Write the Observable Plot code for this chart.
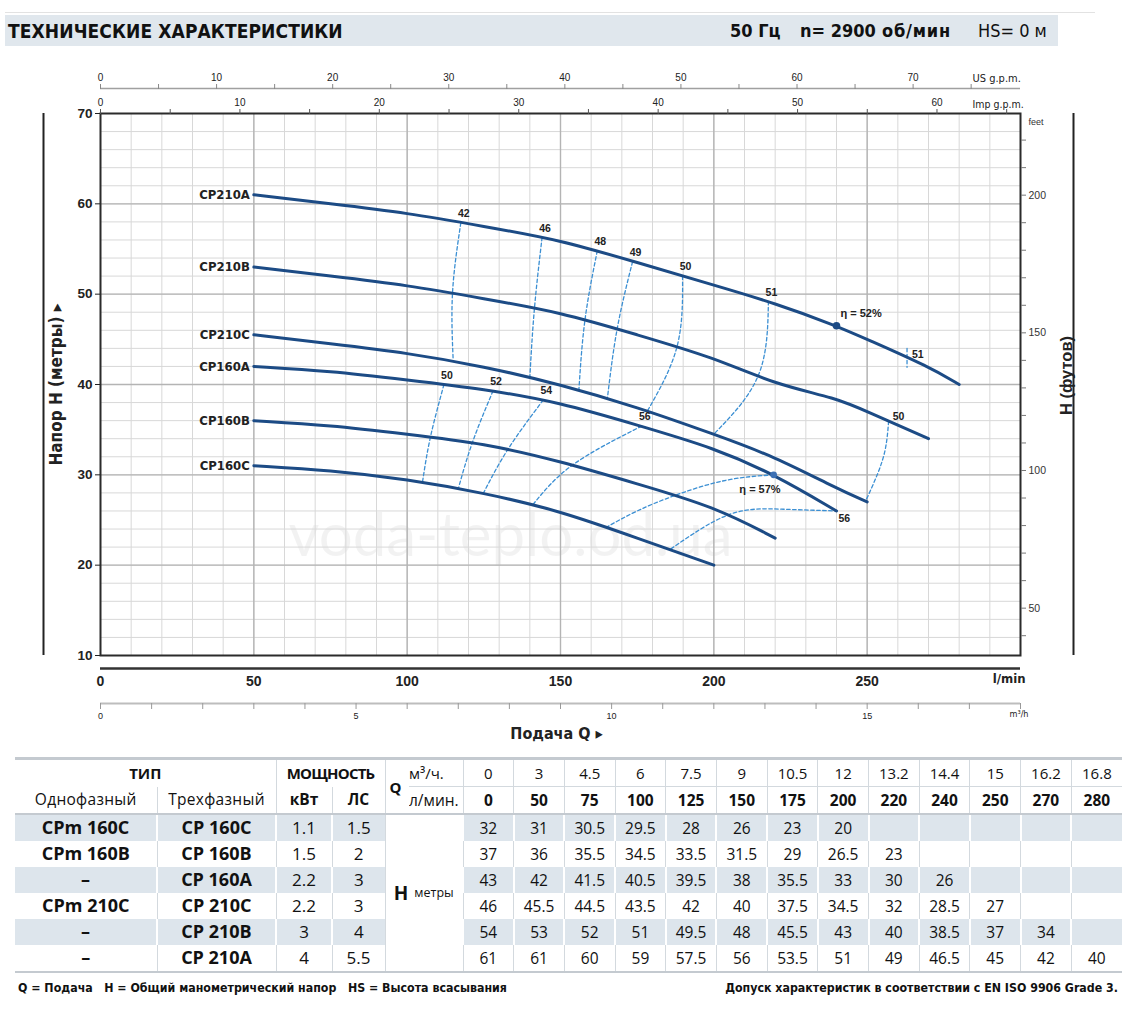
<!DOCTYPE html>
<html>
<head>
<meta charset="utf-8">
<script src="https://cdn.jsdelivr.net/npm/d3@7"></script>
<script src="https://cdn.jsdelivr.net/npm/@observablehq/plot@0.6"></script>
<style>
  body { margin: 0; background: #fff; }
  #page { position: relative; width: 1138px; height: 1019px; overflow: hidden; font-family: "Liberation Sans", Arial, sans-serif; color: #111; background: #fff; }
  #topline { position: absolute; left: 5px; top: 12px; width: 1090px; height: 1px; background: #e2e2e2; }
  #hdr { position: absolute; left: 5px; top: 15px; width: 1053px; height: 31px; background: #e0e7ed; }
  .narrow { font-family: "Liberation Sans Narrow", "DejaVu Sans Condensed", "Liberation Sans", sans-serif; font-stretch: condensed; }
  #title { position: absolute; left: 3px; top: 5px; font-size: 19px; font-weight: bold; letter-spacing: 0.1px; }
  .spec { position: absolute; top: 5px; font-size: 18px; white-space: nowrap; }
  #chart { position: absolute; left: 0; top: 50px; }
  #tbl { position: absolute; left: 15px; top: 757px; border-collapse: collapse; table-layout: fixed; width: 1107px; font-family: "Open Sans", "Noto Sans", sans-serif; color: #111; border-top: 3px solid #c4cad0; border-bottom: 2px solid #c4cad0; line-height: 1.2; }
  #tbl td { padding: 0; text-align: center; vertical-align: middle; white-space: nowrap; overflow: hidden; }
  #tbl tr.h1 td { height: 26px; font-size: 15px; border-left: 1px solid #d3d9de; }
  #tbl tr.h2 td { height: 26px; font-size: 15.5px; border-left: 1px solid #d3d9de; border-bottom: 2px solid #c4cad0; }
  #tbl tr.h1 td.first, #tbl tr.h2 td.first { border-left: none; }
  #tbl td.hd { font-weight: bold; font-size: 18px; }
  #tbl td.moshch { letter-spacing: -0.8px; }
  #tbl td.sub { font-size: 18px; letter-spacing: 0.3px; }
  #tbl td.kv { font-size: 18px; }
  #tbl td.q { font-weight: bold; font-size: 18px; text-align: left; padding-left: 4px; border-bottom: 2px solid #c4cad0; }
  #tbl td.unit { font-size: 13.5px; text-align: left; border-left: none !important; }
  #tbl td.u1, #tbl td.v1 { border-bottom: 1px solid #d3d9de; }
  #tbl td.b { font-weight: bold; }
  #tbl tr.d td { height: 26px; font-size: 15.5px; }
  #tbl tr.sh td { background: #dde5ec; border-left: 2px solid #fff; }
  #tbl tr.wh td { background: #fff; border-left: 1px solid #d3d9de; }
  #tbl tr.d td.first { border-left: none; }
  #tbl tr.d td.nm { font-weight: bold; font-size: 18px; }
  #tbl tr.d td.pw { font-size: 17px; }
  #tbl td.hcell { background: #fff !important; border-left: 1px solid #d3d9de !important; border-right: 1px solid #d3d9de; }
  #tbl td.hcell .H { font-weight: bold; font-size: 19px; }
  #tbl td.hcell .met { font-size: 12.5px; margin-left: 6px; position: relative; top: -3px; }
  .foot { position: absolute; top: 981px; font-size: 12.3px; font-weight: bold; white-space: nowrap; color: #111; }
</style>
</head>
<body>
<div id="page">
  <div id="topline"></div>
  <div id="hdr">
    <span id="title" class="narrow">ТЕХНИЧЕСКИЕ ХАРАКТЕРИСТИКИ</span>
    <span class="spec narrow" style="left:725px;font-weight:bold;">50 Гц</span>
    <span class="spec narrow" style="left:795px;font-weight:bold;">n= 2900</span>
    <span class="spec narrow" style="left:877px;font-weight:bold;letter-spacing:0.8px;">об/мин</span>
    <span class="spec narrow" style="left:973px;">HS= 0 м</span>
  </div>
  <div id="chart"></div>
  <table id="tbl"></table>
  <div class="foot narrow" style="left:18px;">Q = Подача&nbsp;&nbsp; H = Общий манометрический напор&nbsp;&nbsp; HS = Высота всасывания</div>
  <div class="foot narrow" style="right:20px;">Допуск характеристик в соответствии с EN ISO 9906 Grade 3.</div>
</div>
<script>
const flowLmin = [0, 50, 75, 100, 125, 150, 175, 200, 220, 240, 250, 270, 280];
const flowM3h  = ["0", "3", "4.5", "6", "7.5", "9", "10.5", "12", "13.2", "14.4", "15", "16.2", "16.8"];
const models   = ["CP160C", "CP160B", "CP160A", "CP210C", "CP210B", "CP210A"];
const headCP160C = [32, 31, 30.5, 29.5, 28, 26, 23, 20];
const headCP160B = [37, 36, 35.5, 34.5, 33.5, 31.5, 29, 26.5, 23];
const headCP160A = [43, 42, 41.5, 40.5, 39.5, 38, 35.5, 33, 30, 26];
const headCP210C = [46, 45.5, 44.5, 43.5, 42, 40, 37.5, 34.5, 32, 28.5, 27];
const headCP210B = [54, 53, 52, 51, 49.5, 48, 45.5, 43, 40, 38.5, 37, 34];
const headCP210A = [61, 61, 60, 59, 57.5, 56, 53.5, 51, 49, 46.5, 45, 42, 40];
const singlePhase = ["CPm 160C", "CPm 160B", "–", "CPm 210C", "–", "–"];
const threePhase  = ["CP 160C", "CP 160B", "CP 160A", "CP 210C", "CP 210B", "CP 210A"];
const powerKw = ["1.1", "1.5", "2.2", "2.2", "3", "4"];
const powerHp = ["1.5", "2", "3", "3", "4", "5.5"];
const chartStartQ = 50;

// iso-efficiency lines [Q l/min, H m]
const iso42  = [[117.5, 57.9], [114.8, 50.2], [115, 42.7]];
const iso46  = [[144, 56.3], [141.5, 48.4], [140, 40.8]];
const iso48  = [[162, 54.8], [158, 47.2], [156, 39.4]];
const iso49  = [[173.5, 53.6], [168.5, 46.2], [165.3, 38.5]];
const iso50a = [[189.8, 52.0], [188, 44.2], [178.4, 37.1]];
const iso51a = [[217.8, 49.2], [214.5, 41.0], [200, 34.5]];
const iso50b = [[257, 35.95], [256, 33.0], [253.5, 30.2], [249.5, 27.1]];
const iso51b = [[263, 44.0], [263, 41.9]];
const iso50c = [[112, 40.0], [107.6, 34.2], [105, 29.2]];
const iso52c = [[128, 39.3], [121.3, 33.6], [116.7, 28.5]];
const iso54c = [[144.4, 38.3], [133, 32.9], [124.9, 28.0]];
const iso56c = [[176.5, 35.4], [154, 31.1], [141, 26.7]];
const iso57  = [[219.5, 30.0], [204, 29.4], [188, 27.8], [175, 26.0], [165, 24.2]];
const iso56d = [[186, 21.8], [205, 25.6], [222, 26.2], [240, 26.0]];
const effPeakQ = [240, 219.5];
const effPeakH = [46.5, 30.0];
const effPeakText = ["η = 52%", "η = 57%"];

// secondary scale tick values
const usGpmTicks  = d3.range(0, 76, 5);
const impGpmTicks = d3.range(0, 66, 5);
const m3hTicks    = d3.range(0, 19, 1);
const lminLabels  = [0, 50, 100, 150, 200, 250];
const metreLabels = [10, 20, 30, 40, 50, 60, 70];
const feetTicks   = d3.range(40, 221, 10);

// ---------- derived tables ----------
const heads = [headCP160C, headCP160B, headCP160A, headCP210C, headCP210B, headCP210A];
const pumpPts = models.flatMap((m, i) => heads[i].map((h, j) => ({model: m, q: flowLmin[j], h})).filter(d => d.q >= chartStartQ));
const pumpStart = pumpPts.filter(d => d.q === chartStartQ);
const isoSets = [["42", iso42], ["46", iso46], ["48", iso48], ["49", iso49], ["50", iso50a], ["51", iso51a],
                 ["50", iso50c], ["52", iso52c], ["54", iso54c], ["56", iso56c]];
const isoAll = [...isoSets.map(d => d[1]), iso50b, iso51b, iso57, iso56d];
const isoPts = isoAll.flatMap((pts, k) => pts.map(([q, h]) => ({id: k, q, h})));
const isoTop = isoSets.map(([t, pts]) => ({text: t, q: pts[0][0], h: pts[0][1]}));
const peaks = effPeakQ.map((q, i) => ({q, h: effPeakH[i], text: effPeakText[i]}));

const US = 3.785411784, IMP = 4.54609, M3 = 1000 / 60, FT = 0.3048;
const navy = "#1c4b85", dash = "#3b8fd3";
const cond = '"Liberation Sans Narrow", "DejaVu Sans Condensed", "Liberation Sans", sans-serif';

const chart = Plot.plot({
  width: 1138, height: 695,
  marginLeft: 100, marginRight: 118, marginTop: 63, marginBottom: 90,
  x: {domain: [0, 300], axis: null, label: null},
  y: {domain: [10, 70], axis: null, label: null},
  style: {fontFamily: '"Liberation Sans", Arial, Helvetica, sans-serif', fontSize: "10px", color: "#222", background: "transparent", overflow: "visible"},
  marks: [
    Plot.text(["voda-teplo.od.ua"], {frameAnchor: "middle", textAnchor: "middle", dx: -50, dy: 152, fontSize: 60, fill: "#000", fillOpacity: 0.05, fontFamily: "Lato, 'Open Sans', sans-serif"}),
    Plot.gridX(d3.range(10, 300, 10), {stroke: "#d8d8d8", strokeOpacity: 1, strokeWidth: 1}),
    Plot.gridY(d3.range(12, 70, 2), {stroke: "#d8d8d8", strokeOpacity: 1, strokeWidth: 1}),
    Plot.gridX(d3.range(50, 300, 50), {stroke: "#b4b4b4", strokeOpacity: 1, strokeWidth: 1.4}),
    Plot.gridY(d3.range(20, 70, 10), {stroke: "#b4b4b4", strokeOpacity: 1, strokeWidth: 1.4}),
    Plot.frame({stroke: "#2b2b2b", strokeWidth: 2}),

    // left metre axis
    Plot.axisY(metreLabels, {anchor: "left", label: null, tickSize: 5, tickPadding: 3, stroke: "#222", fill: "#222", fontWeight: "bold", fontSize: 13.5}),
    Plot.ruleX([0], {dx: -57, stroke: "#222", strokeWidth: 2}),
    Plot.text(["Напор H (метры) ▸"], {frameAnchor: "left", textAnchor: "middle", rotate: -90, dx: -44, fontWeight: "bold", fontSize: 17, fontFamily: cond, fill: "#222"}),

    // right feet axis
    Plot.axisY(feetTicks.map(f => f * FT), {anchor: "right", label: null, tickSize: 5, tickPadding: 3, stroke: "#777", fill: "#333", fontSize: 10.5,
      tickFormat: d => { const f = Math.round(d / FT); return f % 50 === 0 ? String(f) : ""; }}),
    Plot.text(["feet"], {frameAnchor: "top-right", dx: 8, dy: 5, textAnchor: "start", fontSize: 9, fill: "#333"}),
    Plot.ruleX([300], {dx: 53, stroke: "#222", strokeWidth: 2}),
    Plot.text(["H (футов)"], {frameAnchor: "right", textAnchor: "middle", rotate: -90, dx: 46, dy: -9, fontWeight: "bold", fontSize: 16.5, fill: "#222"}),

    // top US gpm and Imp gpm axes
    Plot.ruleY([70], {dy: -25, stroke: "#a0a0a0", strokeWidth: 1.5}),
    Plot.axisX(usGpmTicks.map(g => g * US), {anchor: "top", label: null, dy: -25, tickSize: 5, tickPadding: 3, stroke: "#888", fill: "#222", fontSize: 10,
      tickFormat: d => { const g = Math.round(d / US); return g % 10 === 0 ? String(g) : ""; }}),
    Plot.text(["US g.p.m."], {frameAnchor: "top-right", dx: -48, dy: -39, textAnchor: "start", fontSize: 11, fontFamily: cond, fill: "#222"}),
    Plot.axisX(impGpmTicks.map(g => g * IMP), {anchor: "top", label: null, tickSize: 5, tickPadding: 3, stroke: "#555", fill: "#222", fontSize: 10,
      tickFormat: d => { const g = Math.round(d / IMP); return g % 10 === 0 ? String(g) : ""; }}),
    Plot.text(["Imp g.p.m."], {frameAnchor: "top-right", dx: -48, dy: -13, textAnchor: "start", fontSize: 10.5, fontFamily: cond, fill: "#222"}),

    // bottom l/min and m3/h axes
    Plot.ruleY([10], {dy: 13, stroke: "#333", strokeWidth: 2.5}),
    Plot.axisX(lminLabels, {anchor: "bottom", label: null, dy: 12, tickSize: 0, tickPadding: 9, fill: "#222", fontWeight: "bold", fontSize: 14}),
    Plot.text(["l/min"], {frameAnchor: "bottom-right", dx: 5, dy: 27, textAnchor: "end", fontWeight: "bold", fontSize: 13, fontFamily: cond, fill: "#222"}),
    Plot.ruleY([10], {dy: 48, stroke: "#bdbdbd", strokeWidth: 2}),
    Plot.axisX(m3hTicks.map(m => m * M3), {anchor: "bottom", label: null, dy: 48, tickSize: 6, tickPadding: 3, stroke: "#999", fill: "#222", fontSize: 9,
      tickFormat: d => { const m = Math.round(d / M3); return m % 5 === 0 ? String(m) : ""; }}),
    Plot.text(["m³/h"], {frameAnchor: "bottom-right", dx: 8, dy: 61, textAnchor: "end", fontSize: 9, fontFamily: cond, fill: "#222"}),
    Plot.text(["Подача Q ▸"], {frameAnchor: "bottom", textAnchor: "middle", dx: -4, dy: 83, fontWeight: "bold", fontSize: 16, fontFamily: cond, fill: "#222"}),

    // iso-efficiency dashed lines
    Plot.line(isoPts, {x: "q", y: "h", z: "id", curve: "natural", stroke: dash, strokeWidth: 1.3, strokeDasharray: "3.5,2.5"}),

    // pump curves
    Plot.line(pumpPts, {x: "q", y: "h", z: "model", curve: "basis", stroke: navy, strokeWidth: 3}),
    Plot.text(pumpStart, {x: "q", y: "h", text: "model", textAnchor: "end", dx: -4, fontWeight: "bold", fontSize: 13, fontFamily: cond, fill: "#222"}),

    // efficiency labels and peaks
    Plot.text(isoTop, {x: "q", y: "h", text: "text", dx: 3, dy: -9, fontWeight: "bold", fontSize: 10.5, fill: "#222"}),
    Plot.text([{q: iso50b[0][0], h: iso50b[0][1], t: "50"}], {x: "q", y: "h", text: "t", dx: 4, dy: -4, textAnchor: "start", fontWeight: "bold", fontSize: 10.5, fill: "#222"}),
    Plot.text([{q: iso51b[0][0], h: iso51b[0][1], t: "51"}], {x: "q", y: "h", text: "t", dx: 5, dy: 6, textAnchor: "start", fontWeight: "bold", fontSize: 10.5, fill: "#222"}),
    Plot.text([{q: iso56d[3][0], h: iso56d[3][1], t: "56"}], {x: "q", y: "h", text: "t", dx: 2, dy: 8, textAnchor: "start", fontWeight: "bold", fontSize: 10.5, fill: "#222"}),
    Plot.dot(peaks.slice(0, 1), {x: "q", y: "h", r: 3.8, fill: navy}),
    Plot.dot(peaks.slice(1), {x: "q", y: "h", r: 3.4, fill: "#3c70b4"}),
    Plot.text(peaks.slice(0, 1), {x: "q", y: "h", text: "text", dx: 4, dy: -12, textAnchor: "start", fontWeight: "bold", fontSize: 11, fill: "#222"}),
    Plot.text(peaks.slice(1), {x: "q", y: "h", text: "text", dx: 7, dy: 15, textAnchor: "end", fontWeight: "bold", fontSize: 11, fill: "#222"})
  ]
});
document.getElementById("chart").appendChild(chart);

// ---------- table ----------
let html = `<colgroup><col style="width:142px"><col style="width:119px"><col style="width:56px"><col style="width:53px"><col style="width:24px"><col style="width:54px">${flowM3h.map(() => '<col style="width:50.69px">').join("")}</colgroup>`;
html += `<tr class="h1"><td colspan="2" class="hd first">ТИП</td><td colspan="2" class="hd moshch">МОЩНОСТЬ</td><td rowspan="2" class="q">Q</td><td class="unit u1">м³/ч.</td>${flowM3h.map(v => `<td class="v1">${v}</td>`).join("")}</tr>`;
html += `<tr class="h2"><td class="sub first">Однофазный</td><td class="sub">Трехфазный</td><td class="b kv">кВт</td><td class="b kv">ЛС</td><td class="unit">л/мин.</td>${flowLmin.map(v => `<td class="b">${v}</td>`).join("")}</tr>`;
heads.forEach((hs, i) => {
  html += `<tr class="d ${i % 2 === 0 ? "sh" : "wh"}"><td class="nm first">${singlePhase[i]}</td><td class="nm">${threePhase[i]}</td><td class="pw">${powerKw[i]}</td><td class="pw">${powerHp[i]}</td>` +
    (i === 0 ? `<td colspan="2" rowspan="6" class="hcell"><span class="H">H</span><span class="met">метры</span></td>` : "") +
    flowLmin.map((q, j) => `<td>${hs[j] !== undefined ? hs[j] : ""}</td>`).join("") + `</tr>`;
});
document.getElementById("tbl").innerHTML = html;
</script>
</body>
</html>
